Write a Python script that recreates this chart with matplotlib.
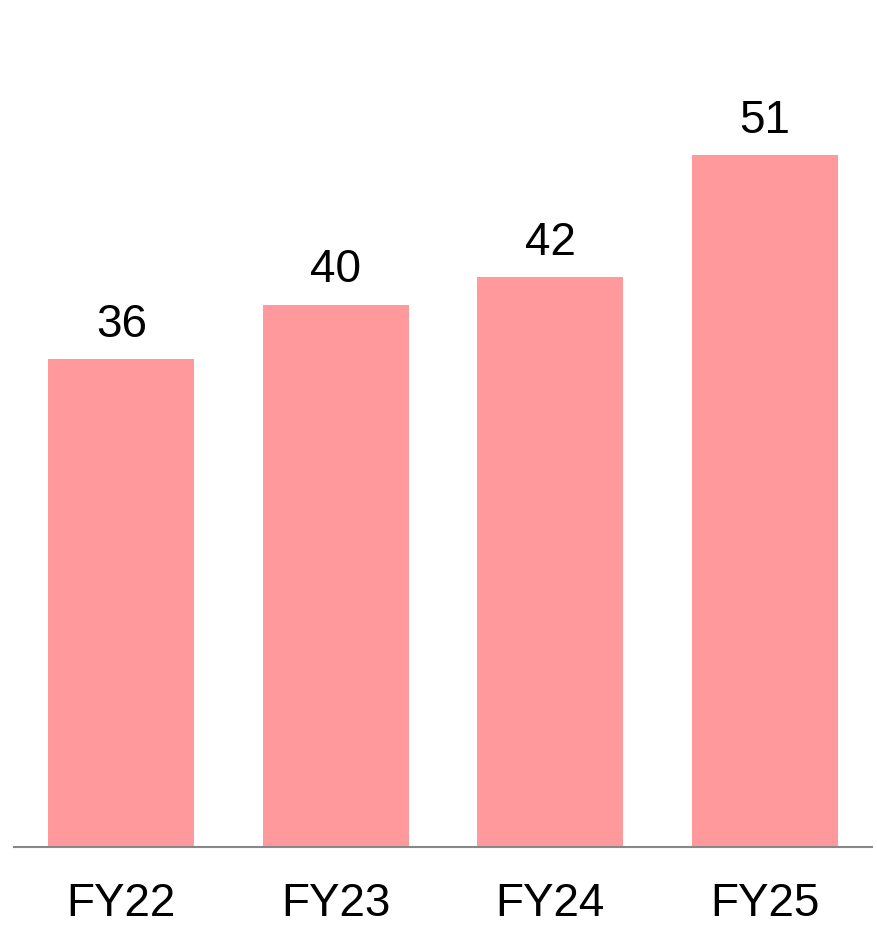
import matplotlib.pyplot as plt

years = ['FY22', 'FY23', 'FY24', 'FY25']
values = [36, 40, 42, 51]

plt.rcParams['font.family'] = ['Liberation Sans', 'DejaVu Sans']

fig = plt.figure(figsize=(8.77, 9.3), dpi=100)
ax = fig.add_axes([14 / 877, 83 / 930, 858 / 877, 847 / 930])

bars = ax.bar(range(len(years)), values, width=0.68, color='#ff999c')
ax.set_xlim(-0.5, 3.5)
ax.set_ylim(0, 847 / 13.56)

for b, v in zip(bars, values):
    ax.annotate(str(v), (b.get_x() + b.get_width() / 2, v), xytext=(0, 16),
                textcoords='offset points', ha='center', va='baseline', fontsize=33)

ax.set_xticks(range(len(years)))
ax.set_xticklabels(years, fontsize=33)
ax.tick_params(axis='x', length=0, pad=25)
ax.set_yticks([])
for s in ['top', 'left', 'right']:
    ax.spines[s].set_visible(False)
ax.spines['bottom'].set_color('#888888')
ax.spines['bottom'].set_linewidth(1.5)

fig.savefig('out.png', dpi=100)
